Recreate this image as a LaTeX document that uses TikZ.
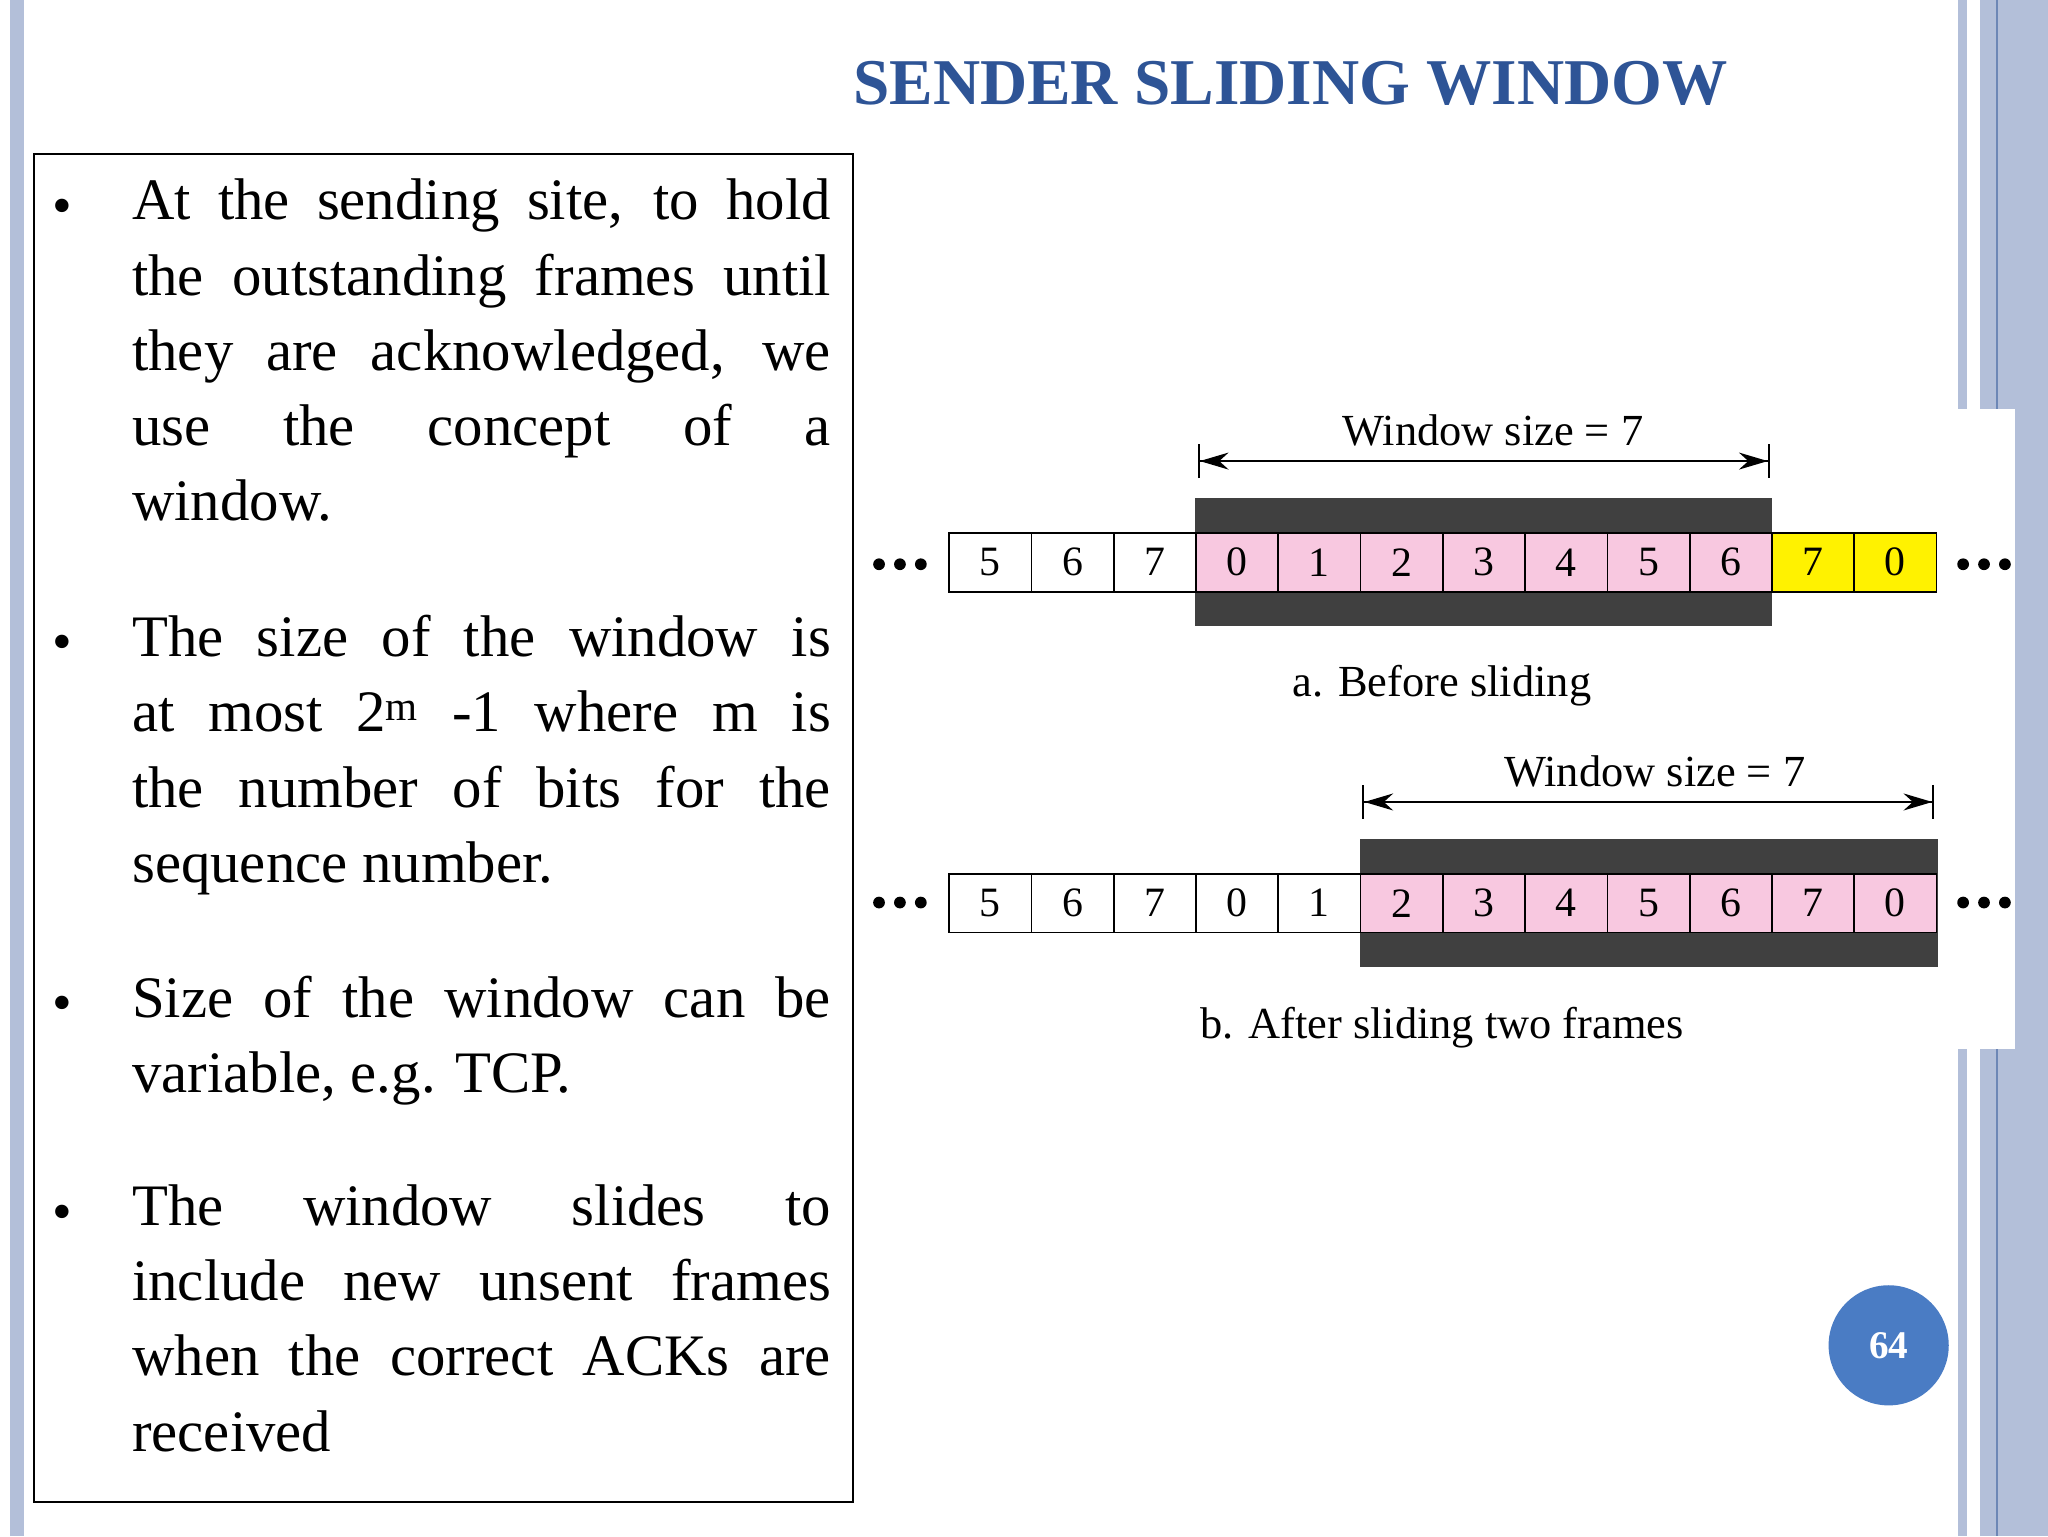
\documentclass[tikz,border=0pt]{standalone}
\usepackage{fontspec}
\setmainfont{Liberation Serif}
\usetikzlibrary{arrows.meta}
\definecolor{band}{HTML}{B3BFD9}
\definecolor{ttl}{HTML}{2E5496}
\definecolor{pgc}{HTML}{4A7CC4}
\definecolor{cpink}{HTML}{F8C8E0}
\definecolor{dark}{HTML}{404040}
\hyphenpenalty=10000
\begin{document}
\begin{tikzpicture}[x=1pt,y=-1pt,
  cell/.style={draw,line width=1.3pt,minimum width=63pt,minimum height=45pt,inner sep=0,anchor=west,font=\fontsize{32}{32}\selectfont},
  para/.style={anchor=north west,inner sep=0,text width=535pt,align=justify,font=\fontsize{45}{57.5}\selectfont},
  bul/.style={anchor=base,inner sep=0,font=\fontsize{43}{57.5}\selectfont},
  lbl/.style={inner sep=0,font=\fontsize{34}{34}\selectfont},
  dot/.style={circle,fill,inner sep=0,minimum size=9pt},
  dim/.style={line width=1.6pt,{Bar[width=26pt]Stealth[length=22pt,width=13pt]}-{Stealth[length=22pt,width=13pt]Bar[width=26pt]}}]
\useasboundingbox (0,0) rectangle (1568,1176);
\fill[white] (0,0) rectangle (1568,1176);
% decorations
\fill[band] (8,0) rectangle (18,1176);
\fill[band] (1499,0) rectangle (1506,1176);
\fill[band] (1516,0) rectangle (1568,1176);
\draw[ttl!70,line width=1pt] (1529,0) -- (1529,1176);
\fill[white] (1499,313) rectangle (1543,803);
% title
\node[inner sep=0,anchor=base,text=ttl,font=\fontsize{50}{50}\selectfont\bfseries] (title) at (988,80) {SENDER SLIDING WINDOW};
% text box
\draw[line width=1.2pt] (26,118) rectangle (653,1150);
\node[bul] (b1) at (48,172) {•};
\node[para] (p1) at (101,137) {At the sending site, to hold\linebreak the outstanding frames until\linebreak they are acknowledged, we\linebreak use the concept of a\linebreak window.};
\node[bul] (b2) at (48,506) {•};
\node[para] (p2) at (101,471) {The size of the window is\linebreak at most 2\textsuperscript{m} -1 where m is\linebreak the number of bits for the\linebreak sequence number.};
\node[bul] (b3) at (48,782) {•};
\node[para] (p3) at (101,747) {Size of the window can be\linebreak variable, e.g. TCP.};
\node[bul] (b4) at (48,942) {•};
\node[para] (p4) at (101,907) {The window slides to\linebreak include new unsent frames\linebreak when the correct ACKs are\linebreak received};
% diagram a
\fill[dark] (915,381) rectangle (1357,479);
\foreach \i/\t/\c in {0/5/white,1/6/white,2/7/white,3/0/cpink,4/1/cpink,5/2/cpink,6/3/cpink,7/4/cpink,8/5/cpink,9/6/cpink,10/7/yellow,11/0/yellow}
  \node[cell,fill=\c] (a\i) at ({726+63*\i},430.5) {\t};
\foreach \j/\x in {1/673,2/689,3/705,4/1503,5/1519,6/1535} \node[dot] (ad\j) at (\x,432) {};
\coordinate (aL) at (917,353); \coordinate (aR) at (1355,353);
\draw[dim] (aL) -- (aR);
\node[lbl,anchor=base] (aw) at (1143,341) {Window size = 7};
\node[lbl,anchor=base] (ac) at (1104,533) {a. Before sliding};
% diagram b
\fill[dark] (1041,642) rectangle (1484,740);
\foreach \i/\t/\c in {0/5/white,1/6/white,2/7/white,3/0/white,4/1/white,5/2/cpink,6/3/cpink,7/4/cpink,8/5/cpink,9/6/cpink,10/7/cpink,11/0/cpink}
  \node[cell,fill=\c] (b\i) at ({726+63*\i},691.5) {\t};
\foreach \j/\x in {1/673,2/689,3/705,4/1503,5/1519,6/1535} \node[dot] (bd\j) at (\x,691) {};
\coordinate (bL) at (1043,614); \coordinate (bR) at (1481,614);
\draw[dim] (bL) -- (bR);
\node[lbl,anchor=base] (bw) at (1267,602) {Window size = 7};
\node[lbl,anchor=base] (bc) at (1104,795) {b. After sliding two frames};
% page number
\node[circle,fill=pgc,minimum size=92pt,inner sep=0,text=white,font=\fontsize{30}{30}\selectfont\bfseries] (pg) at (1446,1030) {64};
\end{tikzpicture}
\end{document}
